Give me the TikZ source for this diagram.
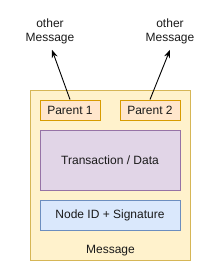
\documentclass[tikz,border=0pt]{standalone}
\usepackage{fontspec}
\setmainfont{Liberation Sans}
\usetikzlibrary{arrows.meta,positioning,calc}
\definecolor{MsgFill}{HTML}{FFF2CC}
\definecolor{MsgLine}{HTML}{D6B656}
\definecolor{ParFill}{HTML}{FFE6CC}
\definecolor{ParLine}{HTML}{D79B00}
\definecolor{TxFill}{HTML}{E1D5E7}
\definecolor{TxLine}{HTML}{9673A6}
\definecolor{SigFill}{HTML}{DAE8FC}
\definecolor{SigLine}{HTML}{6C8EBF}
\definecolor{TextGray}{HTML}{1A1A1A}

\begin{document}
\begin{tikzpicture}[
  x=1pt,y=-1pt,
  font=\fontsize{12}{14}\selectfont,text=TextGray,
  field/.style={draw,line width=0.9pt,inner sep=0pt,align=center},
  arr/.style={-{Stealth[length=8pt,width=6pt]},line width=0.9pt,black},
]
\useasboundingbox (0,0) rectangle (221,271);
\node[field,draw=MsgLine,fill=MsgFill,minimum width=160,minimum height=170] (msg) at (110.5,175) {};
\node[field,draw=ParLine,fill=ParFill,minimum width=60,minimum height=20] (par1) at (70,110) {Parent 1};
\node[field,draw=ParLine,fill=ParFill,minimum width=60,minimum height=20] (par2) at (150,110) {Parent 2};
\node[field,draw=TxLine,fill=TxFill,minimum width=140,minimum height=60] (data) at (110,160) {Transaction / Data};
\node[field,draw=SigLine,fill=SigFill,minimum width=140,minimum height=30] (sig) at (110,215) {Node ID + Signature};
\node[above=1pt of msg.south] (msglabel) {Message};
\node[align=center,inner sep=0pt] (other1) at (50,31) {other\\Message};
\node[align=center,inner sep=0pt] (other2) at (170,31) {other\\Message};
\draw[arr] (par1.north) -- ($(other1.south)+(2,6)$);
\draw[arr] (par2.north) -- ($(other2.south)+(0,6)$);
\end{tikzpicture}
\end{document}
